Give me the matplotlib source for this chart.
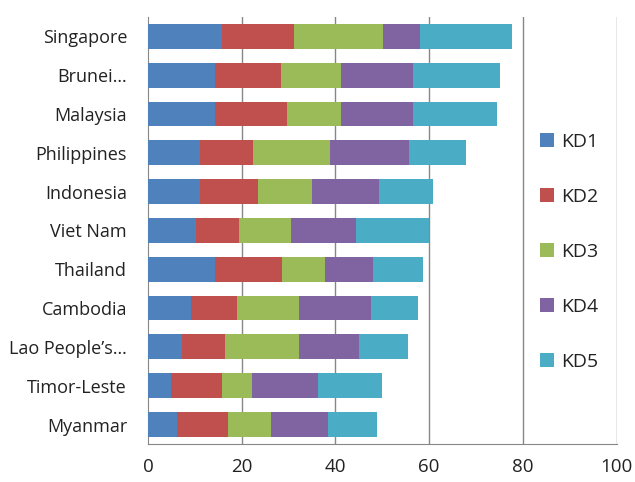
import numpy as np
import matplotlib
matplotlib.use("Agg")
import matplotlib.pyplot as plt
from matplotlib.patches import Patch

plt.rcParams['font.family'] = ['Open Sans', 'DejaVu Sans']

countries = ['Singapore', 'Brunei…', 'Malaysia', 'Philippines', 'Indonesia',
             'Viet Nam', 'Thailand', 'Cambodia', 'Lao People’s…',
             'Timor-Leste', 'Myanmar']

kd1 = [15.8, 14.2, 14.2, 11.0, 11.0, 10.3, 14.2, 9.1, 7.3, 5.0, 6.1]
kd2 = [15.4, 14.1, 15.5, 11.4, 12.5, 9.1, 14.5, 9.9, 9.2, 10.8, 10.9]
kd3 = [19.0, 12.8, 11.4, 16.5, 11.4, 11.1, 9.1, 13.2, 15.7, 6.5, 9.3]
kd4 = [7.8, 15.4, 15.4, 16.9, 14.3, 13.9, 10.3, 15.4, 12.9, 13.9, 12.2]
kd5 = [19.7, 18.7, 17.9, 12.0, 11.6, 15.5, 10.6, 10.0, 10.3, 13.7, 10.3]

series = ['KD1', 'KD2', 'KD3', 'KD4', 'KD5']
colors = ['#4F81BD', '#C0504D', '#9BBB59', '#8064A2', '#4BACC6']

fig = plt.figure(figsize=(6.35, 4.82), dpi=100)
ax = fig.add_axes([0.233, 0.079, 0.738, 0.886])

y = np.arange(len(countries))
left = np.zeros(len(countries))
for name, vals, c in zip(series, [kd1, kd2, kd3, kd4, kd5], colors):
    ax.barh(y, vals, left=left, height=0.64, color=c, label=name, zorder=3)
    left += np.array(vals)

ax.set_xlim(0, 100)
ax.set_ylim(-0.5, len(countries) - 0.5)
ax.invert_yaxis()
ax.set_yticks(y)
ax.set_yticklabels(countries, fontsize=13, color='#222222')
ax.set_xticks([0, 20, 40, 60, 80, 100])
ax.tick_params(axis='x', labelsize=13.5, labelcolor='#222222', length=0, pad=10)
ax.tick_params(axis='y', length=0, pad=15)

grid_color = '#878787'
for xv in [20, 40, 60, 80, 100]:
    ax.axvline(xv, color=grid_color, lw=1, zorder=1)
for s in ['top', 'right']:
    ax.spines[s].set_visible(False)
ax.spines['left'].set_color(grid_color)
ax.spines['bottom'].set_color(grid_color)

handles = [Patch(facecolor=c, label=n) for n, c in zip(series, colors)]
ax.legend(handles=handles, loc='center left', bbox_to_anchor=(0.80, 0.45),
          frameon=False, fontsize=14, labelspacing=1.9,
          handlelength=0.7, handleheight=0.7, handletextpad=0.35,
          labelcolor='#222222')

fig.savefig('out.png', dpi=100)
